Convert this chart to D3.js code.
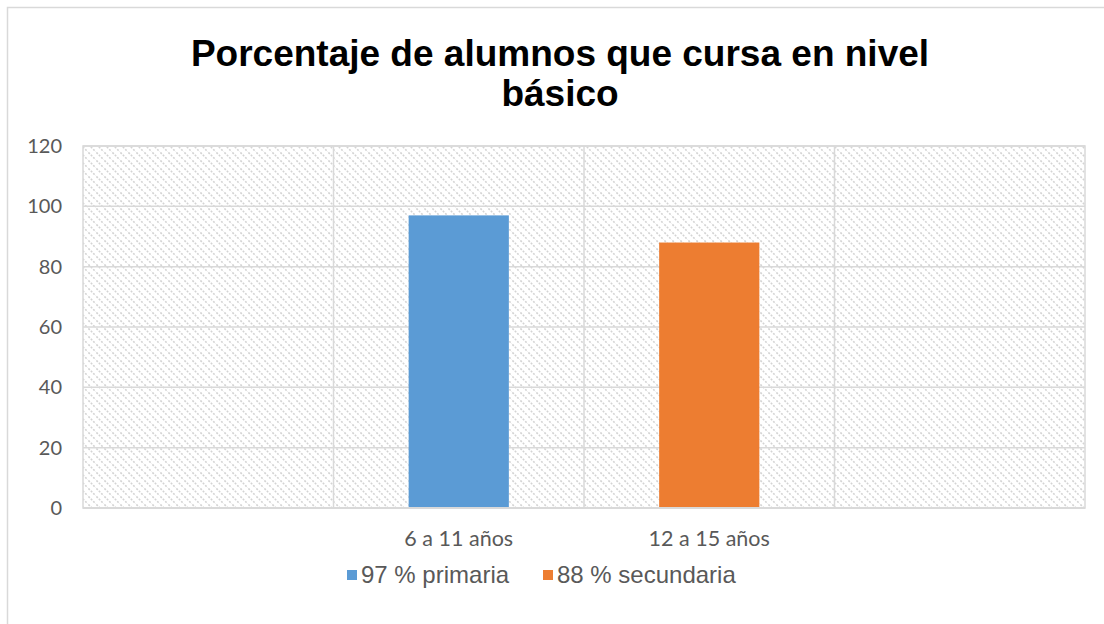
<!DOCTYPE html>
<html>
<head>
<meta charset="utf-8">
<script src="https://cdn.jsdelivr.net/npm/d3@7"></script>
<style>
  body { margin: 0; background: #fff; }
</style>
</head>
<body>
<script>
// DATA
var categories = ['', '6 a 11 años', '12 a 15 años', ''];
var seriesNames = ['97 % primaria', '88 % secundaria'];
var seriesValues = [97, 88];
var seriesCats = ['6 a 11 años', '12 a 15 años'];
var seriesColors = ['#5b9bd5', '#ed7d31'];
var yTicks = [0, 20, 40, 60, 80, 100, 120];

var W = 1104, H = 624;
var plotLeft = 83, plotRight = 1085, plotTop = 146, plotBottom = 508;

var svg = d3.select('body').append('svg')
  .attr('width', W)
  .attr('height', H);

// hatch pattern for plot background
var defs = svg.append('defs');
var pat = defs.append('pattern')
  .attr('id', 'hatch')
  .attr('patternUnits', 'userSpaceOnUse')
  .attr('width', 8)
  .attr('height', 8);
pat.append('path')
  .attr('d', 'M-2,-2 L10,10 M-2,6 L2,10 M6,-2 L10,2')
  .attr('stroke', '#d4d4d4')
  .attr('stroke-width', 1.6)
  .attr('stroke-dasharray', '2,1.4');

// outer border
svg.append('rect')
  .attr('x', 7.5).attr('y', 7.5)
  .attr('width', W).attr('height', H)
  .attr('fill', 'none')
  .attr('stroke', '#d9d9d9')
  .attr('stroke-width', 1.5);

// scales
var x = d3.scaleBand()
  .domain(d3.range(categories.length))
  .range([plotLeft, plotRight]);
var y = d3.scaleLinear()
  .domain([0, 120])
  .range([plotBottom, plotTop]);

// plot background
svg.append('rect')
  .attr('x', plotLeft).attr('y', plotTop)
  .attr('width', plotRight - plotLeft).attr('height', plotBottom - plotTop)
  .attr('fill', 'url(#hatch)')
  .attr('stroke', '#d9d9d9')
  .attr('stroke-width', 1.5);

// horizontal gridlines
svg.selectAll('.hgrid')
  .data(yTicks)
  .enter()
  .append('line')
  .attr('x1', plotLeft).attr('x2', plotRight)
  .attr('y1', function(d) { return y(d); })
  .attr('y2', function(d) { return y(d); })
  .attr('stroke', '#d9d9d9')
  .attr('stroke-width', 1.5);

// vertical gridlines between categories
svg.selectAll('.vgrid')
  .data(d3.range(1, categories.length))
  .enter()
  .append('line')
  .attr('x1', function(d) { return x(d); })
  .attr('x2', function(d) { return x(d); })
  .attr('y1', plotTop).attr('y2', plotBottom)
  .attr('stroke', '#d9d9d9')
  .attr('stroke-width', 1.5);

// bars
var barW = x.bandwidth() * 0.4;
svg.selectAll('.bar')
  .data(seriesValues)
  .enter()
  .append('rect')
  .attr('x', function(d, i) {
    var idx = categories.indexOf(seriesCats[i]);
    return x(idx) + (x.bandwidth() - barW) / 2;
  })
  .attr('y', function(d) { return y(d); })
  .attr('width', barW)
  .attr('height', function(d) { return plotBottom - y(d); })
  .attr('fill', function(d, i) { return seriesColors[i]; });

// axis line
svg.append('line')
  .attr('x1', plotLeft).attr('x2', plotRight)
  .attr('y1', plotBottom).attr('y2', plotBottom)
  .attr('stroke', '#d9d9d9')
  .attr('stroke-width', 2);

// y tick labels
svg.selectAll('.ylab')
  .data(yTicks)
  .enter()
  .append('text')
  .attr('x', 62)
  .attr('y', function(d) { return y(d) + 7; })
  .attr('text-anchor', 'end')
  .attr('font-family', 'Lato, "Open Sans", sans-serif')
  .attr('font-size', 20)
  .attr('fill', '#595959')
  .text(function(d) { return d; });

// x labels
svg.selectAll('.xlab')
  .data(categories)
  .enter()
  .append('text')
  .attr('x', function(d, i) { return x(i) + x.bandwidth() / 2; })
  .attr('y', 546)
  .attr('text-anchor', 'middle')
  .attr('font-family', 'Lato, "Open Sans", sans-serif')
  .attr('font-size', 21.5)
  .attr('fill', '#595959')
  .text(function(d) { return d; });

// title
var title = svg.append('text')
  .attr('text-anchor', 'middle')
  .attr('font-family', '"Liberation Sans", Arial, sans-serif')
  .attr('font-weight', 'bold')
  .attr('font-size', 37)
  .attr('fill', '#000');
title.append('tspan').attr('x', 560).attr('y', 66).text('Porcentaje de alumnos que cursa en nivel');
title.append('tspan').attr('x', 560).attr('y', 106).text('básico');

// legend
var legX = [347, 543];
seriesNames.forEach(function(name, i) {
  svg.append('rect')
    .attr('x', legX[i]).attr('y', 570)
    .attr('width', 10).attr('height', 10)
    .attr('fill', seriesColors[i]);
  svg.append('text')
    .attr('x', legX[i] + 14)
    .attr('y', 583)
    .attr('font-family', '"Liberation Sans", Arial, sans-serif')
    .attr('font-size', 24)
    .attr('fill', '#595959')
    .text(name);
});
</script>
</body>
</html>
